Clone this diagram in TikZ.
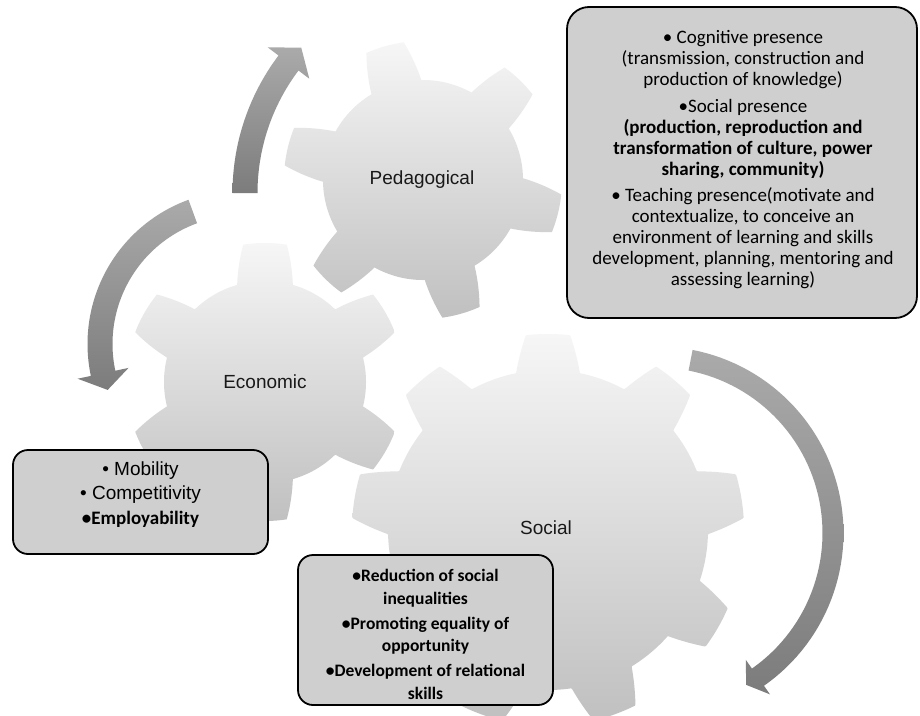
\documentclass[tikz,border=0pt]{standalone}
\usepackage{fontspec}
\setmainfont{Carlito}
\newfontfamily\arialf{Liberation Sans}
\definecolor{gtop}{HTML}{F6F6F6}
\definecolor{gbot}{HTML}{C0C0C0}
\definecolor{arrtop}{HTML}{AAAAAA}
\definecolor{arrbot}{HTML}{7C7C7C}
\definecolor{boxfill}{HTML}{CFCFCF}
% cx cy r R n rot baseHalf tipHalf
\newcommand\mygear[8]{%
\begin{scope}[shift={(#1,#2)}]
\path[gearshade] plot[domain=0:360,samples=1081] (\x:{#3+(#4-#3)*min(1,max(0,(#7-abs(mod(\x-#6+720+180/#5,360/#5)-180/#5))/(#7-#8)))}) -- cycle;
\end{scope}}
% cx cy R a b shaftwidth headwidth headangle
\newcommand\arcarrow[8]{%
\begin{scope}[shift={(#1,#2)}]
\path[arrowshade] plot[domain=#4:#5,samples=60] (\x:{#3+#6/2}) -- (#5:{#3+#7/2}) -- ({#5+#8}:#3) -- (#5:{#3-#7/2}) -- plot[domain=#5:#4,samples=60] (\x:{#3-#6/2}) -- cycle;
\end{scope}}
\begin{document}
\begin{tikzpicture}[x=1pt,y=-1pt,
  gearshade/.style={top color=gtop,bottom color=gbot},
  arrowshade/.style={top color=arrtop,bottom color=arrbot},
  infobox/.style={draw=black,line width=1.8pt,fill=boxfill,rounded corners=#1,inner sep=0pt},
  geartext/.style={font=\arialf\fontsize{19}{22}\selectfont,text=black!90}]
\useasboundingbox (0,0) rectangle (920,715);
\fill[white] (0,0) rectangle (920,715);
\clip (0,0) rectangle (920,715);
% gears
\mygear{423}{180}{100}{139}{6}{14}{15}{8}
\mygear{265}{382}{101}{139}{6}{30}{16}{9}
\mygear{548}{530}{160}{196}{9}{30}{11.5}{6.5}
\node[geartext] (ped) at (422,180) {Pedagogical};
\node[geartext] (eco) at (265,382) {Economic};
\node[geartext] (soc) at (546,528) {Social};
% arrows
\arcarrow{461}{193}{216}{180}{217}{25}{52}{5.3}
\arcarrow{241}{344}{141}{250}{168}{25}{52}{-7}
\arcarrow{657}{533}{176}{-79}{55}{21}{42}{4.6}
% boxes
\node[infobox=22pt,minimum width=350pt,minimum height=311pt] (pbox) at (742,162.5) {};
\node[font=\fontsize{19}{21}\selectfont,align=center] (ptext) at (743,160) {• Cognitive presence\\(transmission, construction and\\production of knowledge)\\[5.5pt]•Social presence\\\textbf{(production, reproduction and}\\\textbf{transformation of culture, power}\\\textbf{sharing, community)}\\[5.5pt]• Teaching presence(motivate and\\contextualize, to conceive an\\environment of learning and skills\\development, planning, mentoring and\\assessing learning)};
\node[infobox=15pt,minimum width=255pt,minimum height=104pt] (ebox) at (140.5,502) {};
\node[font=\fontsize{19}{24.5}\selectfont,align=center] (etext) at (140.5,494.5) {{\arialf • Mobility}\\{\arialf • Competitivity}\\\textbf{•Employability}};
\node[infobox=15pt,minimum width=255pt,minimum height=150pt] (sbox) at (425.5,630) {};
\node[font=\bfseries\fontsize{17.5}{22.5}\selectfont,align=center] (stext) at (425.5,634.5) {•Reduction of social\\inequalities\\[2.5pt]•Promoting equality of\\opportunity\\[2.5pt]•Development of relational\\skills};
\end{tikzpicture}
\end{document}
